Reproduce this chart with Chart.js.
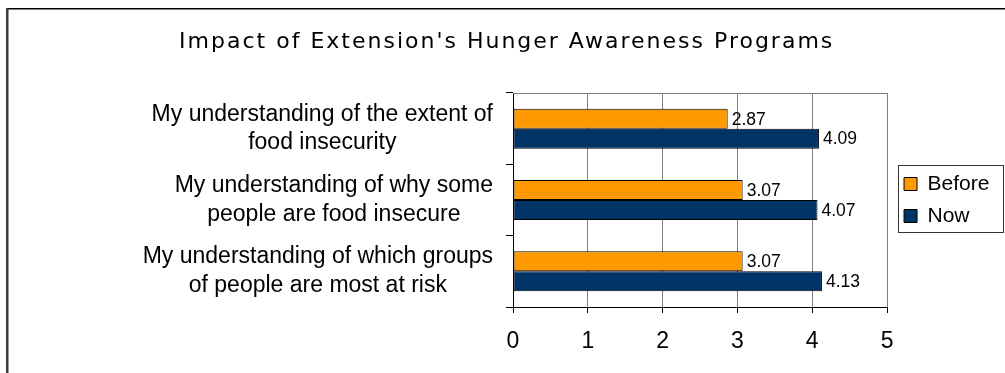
<!DOCTYPE html>
<html><head><meta charset="utf-8">
<script src="https://cdn.jsdelivr.net/npm/chart.js@4/dist/chart.umd.min.js"></script>
<style>html,body{margin:0;padding:0;background:#fff;overflow:hidden}</style>
</head><body>
<canvas id="c" width="1005" height="373"></canvas>
<script>
const titleText = "Impact of Extension's Hunger Awareness Programs";
const categories = [
  ["My understanding of the extent of", "food insecurity"],
  ["My understanding of why some", "people are food insecure"],
  ["My understanding of which groups", "of people are most at risk"]
];
const seriesNames = ["Before", "Now"];
const beforeValues = [2.87, 3.07, 3.07];
const nowValues = [4.09, 4.07, 4.13];
const xTickValues = [0, 1, 2, 3, 4, 5];

const SANS = '"Liberation Sans", Arial, sans-serif';

const framePlugin = {
  id: 'frame',
  beforeDraw(chart) {
    const ctx = chart.ctx;
    ctx.save();
    ctx.fillStyle = '#fff';
    ctx.fillRect(0, 0, chart.width, chart.height);
    ctx.fillStyle = '#000';
    ctx.fillRect(6, 8, chart.width, 1.5);
    ctx.fillStyle = '#3c3c3c';
    ctx.fillRect(6, 8, 2.5, chart.height);
    ctx.restore();
    const tb = chart.titleBlock;
    if (tb && !tb._spaced) {
      const orig = tb.draw.bind(tb);
      tb.draw = function () {
        const c = this.ctx;
        c.save();
        c.letterSpacing = '2px';
        orig();
        c.restore();
      };
      tb._spaced = true;
    }
    const s = chart.scales.y;
    const items = s.getLabelItems();
    const tl = s.options.grid.tickLength, pad = s.options.ticks.padding;
    items.forEach(it => {
      ctx.save();
      ctx.font = it.font.string;
      const lines = Array.isArray(it.label) ? it.label : [it.label];
      const w = Math.max(...lines.map(l => ctx.measureText(l).width));
      ctx.restore();
      it.options.translation[0] = s.right - tl - pad - w / 2;
    });
  },
  afterLayout(chart) {
    chart.legend.left += 6;
  },
  beforeDatasetsDraw(chart) {
    const {ctx, chartArea: a} = chart;
    ctx.save();
    ctx.strokeStyle = '#808080';
    ctx.lineWidth = 1;
    const y = Math.round(a.top) + 0.5;
    ctx.beginPath();
    ctx.moveTo(a.left, y);
    ctx.lineTo(a.right + 0.5, y);
    ctx.stroke();
    ctx.restore();
  },
  afterDatasetsDraw(chart) {
    const ctx = chart.ctx;
    ctx.save();
    ctx.font = '17.5px ' + SANS;
    ctx.fillStyle = '#000';
    ctx.textBaseline = 'middle';
    ctx.textAlign = 'left';
    chart.data.datasets.forEach((ds, di) => {
      chart.getDatasetMeta(di).data.forEach((bar, i) => {
        ctx.fillText(ds.data[i].toFixed(2), bar.x + 4, bar.y + 1);
      });
    });
    ctx.restore();
  },
  afterDraw(chart) {
    const lg = chart.legend;
    const pad = lg.options.labels.padding;
    const colH = lg.columnSizes[0].height;
    const firstY = (lg.top + pad + lg.bottom - colH) / 2;
    const ctx = chart.ctx;
    ctx.save();
    ctx.strokeStyle = '#333';
    ctx.lineWidth = 1;
    const left = Math.round(lg.left + pad - 6) + 0.5;
    const top = Math.round(firstY - 8.5) + 0.5;
    ctx.strokeRect(left, top, 105, 67);
    ctx.restore();
  }
};

new Chart(document.getElementById('c'), {
  type: 'bar',
  data: {
    labels: categories,
    datasets: [
      { label: seriesNames[0], data: beforeValues, backgroundColor: '#FF9900', borderColor: '#000', borderWidth: 1, borderSkipped: false },
      { label: seriesNames[1], data: nowValues, backgroundColor: '#003366', borderColor: '#000', borderWidth: 1, borderSkipped: false }
    ]
  },
  options: {
    indexAxis: 'y',
    responsive: false,
    animation: false,
    devicePixelRatio: 1,
    layout: { padding: { left: 20, right: 11.6, top: 0, bottom: 0 } },
    datasets: { bar: { categoryPercentage: 0.56, barPercentage: 1 } },
    scales: {
      x: {
        min: 0, max: 5,
        afterBuildTicks: (s) => { s.ticks = xTickValues.map(v => ({ value: v })); },
        afterFit: (s) => { s.height = 66; },
        grid: { color: '#808080', lineWidth: 1, tickLength: 6, tickColor: '#000' },
        border: { color: '#000', width: 1 },
        ticks: { color: '#000', padding: 15, font: { family: SANS, size: 23, lineHeight: 1.2 } }
      },
      y: {
        afterFit: (s) => { s.width = 493; },
        grid: { offset: true, drawOnChartArea: false, tickLength: 7, tickColor: '#000' },
        border: { color: '#000', width: 1 },
        ticks: { color: '#000', padding: 13, crossAlign: 'center', font: { family: SANS, size: 23, lineHeight: 1.25 } }
      }
    },
    plugins: {
      title: {
        display: true,
        text: titleText,
        color: '#000',
        font: { family: '"DejaVu Sans", sans-serif', size: 22, weight: 'normal', lineHeight: 1.2 },
        padding: { top: 29, bottom: 37.6 }
      },
      legend: {
        position: 'right',
        fullSize: false,
        labels: {
          color: '#000',
          boxWidth: 13, boxHeight: 13,
          padding: 11,
          font: { family: SANS, size: 21 }
        }
      },
      tooltip: { enabled: false }
    }
  },
  plugins: [framePlugin]
});
</script>
</body></html>
